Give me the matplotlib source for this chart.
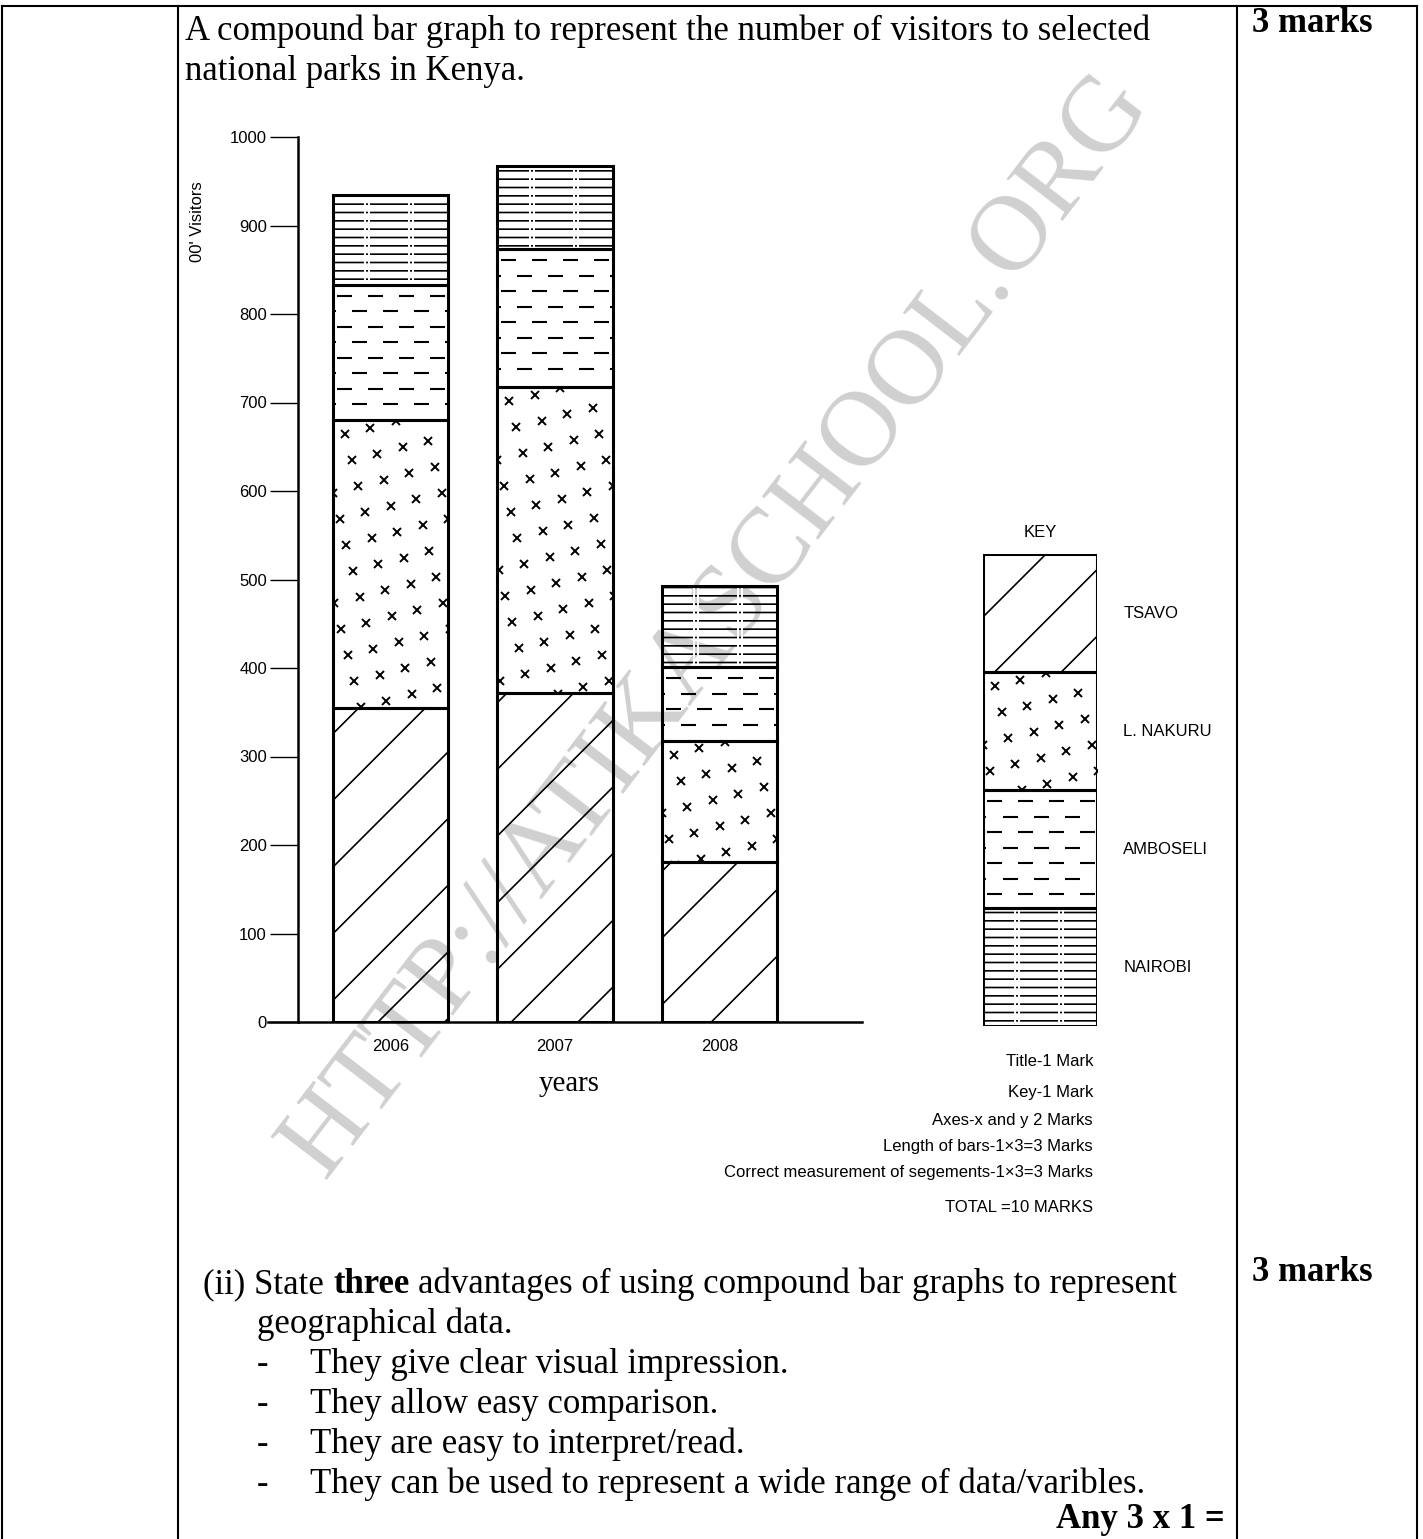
import numpy as np
import matplotlib
matplotlib.use("Agg")
import matplotlib.pyplot as plt
from matplotlib.collections import LineCollection

# ---- data (hundreds of visitors) ----
years = ['2006', '2007', '2008']
parks = ['TSAVO', 'L. NAKURU', 'AMBOSELI', 'NAIROBI']
tsavo = [355, 372, 181]
nakuru = [325, 345, 137]
amboseli = [153, 156, 83]
nairobi = [101, 94, 92]
key_sizes = [1, 1, 1, 1]   # equal boxes in the key, same order as parks

mark_notes = ['Title-1 Mark', 'Key-1 Mark', 'Axes-x and y 2 Marks',
              'Length of bars-1\u00d73=3 Marks',
              'Correct measurement of segements-1\u00d73=3 Marks',
              'TOTAL =10 MARKS']
answers = ['They give clear visual impression.',
           'They allow easy comparison.',
           'They are easy to interpret/read.',
           'They can be used to represent a wide range of data/varibles.']

DPI = 200
W, H = 1423, 1539
plt.rcParams['font.family'] = 'Liberation Sans'
plt.rcParams['hatch.linewidth'] = 0.6
SERIF = 'Liberation Serif'

fig = plt.figure(figsize=(W / DPI, H / DPI), dpi=DPI)

# page layer in pixel coordinates
page = fig.add_axes([0, 0, 1, 1])
page.set_xlim(0, W)
page.set_ylim(H, 0)
page.axis('off')

page.text(717, 625, 'HTTP://ATIKASCHOOL.ORG', family=SERIF, fontsize=38.5,
          color='#d0d0d0', rotation=52.5, rotation_mode='anchor',
          ha='center', va='center', zorder=0)

for x in (2, 178, 1237, 1417):
    page.plot([x, x], [6, H], color='black', lw=0.75)
page.plot([2, 1417], [6, 6], color='black', lw=0.75)

body = dict(family=SERIF, fontsize=12.5, va='baseline')
page.text(185, 40, 'A compound bar graph to represent the number of visitors to selected', **body)
page.text(185, 80, 'national parks in Kenya.', **body)
page.text(1252, 32, '3 marks', weight='bold', **body)
page.text(1252, 1281, '3 marks', weight='bold', **body)

page.text(203, 1293, '(ii) State', **body)
page.text(333, 1293, 'three', weight='bold', **body)
page.text(418, 1293, 'advantages of using compound bar graphs to represent', **body)
page.text(257, 1333, 'geographical data.', **body)
for i, a in enumerate(answers):
    yb = 1373 + 40 * i
    page.text(257, yb, '-', **body)
    page.text(310, yb, a, **body)
page.text(1225, 1528, 'Any 3 x 1 =', weight='bold', ha='right', **body)

note_y = [1062, 1093, 1121, 1147, 1173, 1208]
for t, yy in zip(mark_notes, note_y):
    page.text(1093, yy, t, fontsize=6.0, ha='right', va='center')


# ---- fill textures ----
def texture(ax, rect, kind):
    inv = ax.transData.inverted()
    (x0, y0), (x1, y1) = ax.transData.transform(
        [(rect.get_x(), rect.get_y()),
         (rect.get_x() + rect.get_width(), rect.get_y() + rect.get_height())])
    if kind == 'dash':
        segs = []
        y, row = y1 - 11, 0
        while y > y0 + 6:
            for xa in np.arange(x0 - 27 + (row % 2) * 15.5, x1, 31):
                segs.append(inv.transform([(xa, y), (xa + 15, y)]))
            y -= 15.5
            row += 1
        lc = LineCollection(segs, colors='black', linewidths=0.75, zorder=2)
        ax.add_collection(lc, autolim=False)
        lc.set_clip_path(rect)
    elif kind == 'cross':
        a = np.array([25.5, 6.5])
        b = np.array([6.7, -26.0])
        org = np.array([x0 + 12, y1 - 14])
        pts = []
        for j in range(-12, 40):
            for i in range(-25, 25):
                p = org + i * a + j * b
                if x0 - 5 <= p[0] <= x1 + 5 and y0 - 5 <= p[1] <= y1 + 5:
                    pts.append(p)
        pts = inv.transform(np.array(pts))
        ln, = ax.plot(pts[:, 0], pts[:, 1], ls='none', marker='x', ms=3.0,
                      mew=0.7, color='black', zorder=2)
        ln.set_clip_path(rect)
    elif kind == 'lines':
        for f in (0.3, 0.68):
            xc = x0 + f * (x1 - x0)
            for dx in (-2.0, 2.0):
                pp = inv.transform([(xc + dx, y0), (xc + dx, y1)])
                ln, = ax.plot(pp[:, 0], pp[:, 1], color='white', lw=0.7, zorder=2)
                ln.set_clip_path(rect)


HATCH = {'hatch': '/', 'cross': None, 'dash': None, 'lines': '----'}


def stacked(ax, x, layers, kinds, width):
    bottom = np.zeros(len(x))
    for vals, kind in zip(layers, kinds):
        vals = np.asarray(vals, dtype=float)
        rects = ax.bar(x, vals, width, bottom=bottom, color='none',
                       edgecolor='black', linewidth=0, hatch=HATCH[kind], zorder=1)
        for r in rects:
            if kind != 'hatch':
                texture(ax, r, kind)
        ax.bar(x, vals, width, bottom=bottom, fill=False, edgecolor='black',
               linewidth=1.1, zorder=3)
        bottom += vals


def fig_box(l, t, r, b):
    return [l / W, (H - b) / H, (r - l) / W, (b - t) / H]


park_kinds = ['hatch', 'cross', 'dash', 'lines']

# ---- main chart ----
ax = fig.add_axes(fig_box(298, 137, 862, 1022))
ax.patch.set_visible(False)
xpos = np.arange(len(years))
ax.set_xlim(-0.5623, 2.866)
ax.set_ylim(0, 1000)
stacked(ax, xpos, [tsavo, nakuru, amboseli, nairobi], park_kinds, 0.70)

for s in ('top', 'right'):
    ax.spines[s].set_visible(False)
ax.spines['left'].set_linewidth(0.9)
ax.spines['bottom'].set_linewidth(0.9)
ax.spines['bottom'].set_bounds(-0.745, 2.866)
ax.set_yticks(np.arange(0, 1001, 100))
ax.tick_params(axis='y', direction='out', length=10, width=0.5, pad=1.2, labelsize=6.0)
ax.set_xticks(xpos)
ax.set_xticklabels(years)
ax.tick_params(axis='x', length=0, pad=6, labelsize=6.0)
ax.set_ylabel("00' Visitors", fontsize=6.0)
ax.yaxis.set_label_coords(-0.165, 0.904)
ax.set_xlabel('years', family=SERIF, fontsize=10.4)
ax.xaxis.set_label_coords(0.4805, -0.055)

# ---- key (Tsavo on top, Nairobi at the bottom) ----
kax = fig.add_axes(fig_box(983, 554, 1097, 1026))
kax.patch.set_visible(False)
kax.set_xlim(0, 1)
kax.set_ylim(0, sum(key_sizes))
kax.axis('off')
stacked(kax, [0.5], [[s] for s in key_sizes[::-1]], park_kinds[::-1], 1.0)
tops = sum(key_sizes) - np.cumsum([0] + key_sizes[:-1])
for name, top, s in zip(parks, tops, key_sizes):
    kax.text(1.23, top - s / 2, name, fontsize=6.0, va='center', ha='left')
kax.text(0.5, sum(key_sizes) + 0.18, 'KEY', fontsize=6.0, ha='center', va='center')

fig.savefig('out.png', dpi=DPI)
